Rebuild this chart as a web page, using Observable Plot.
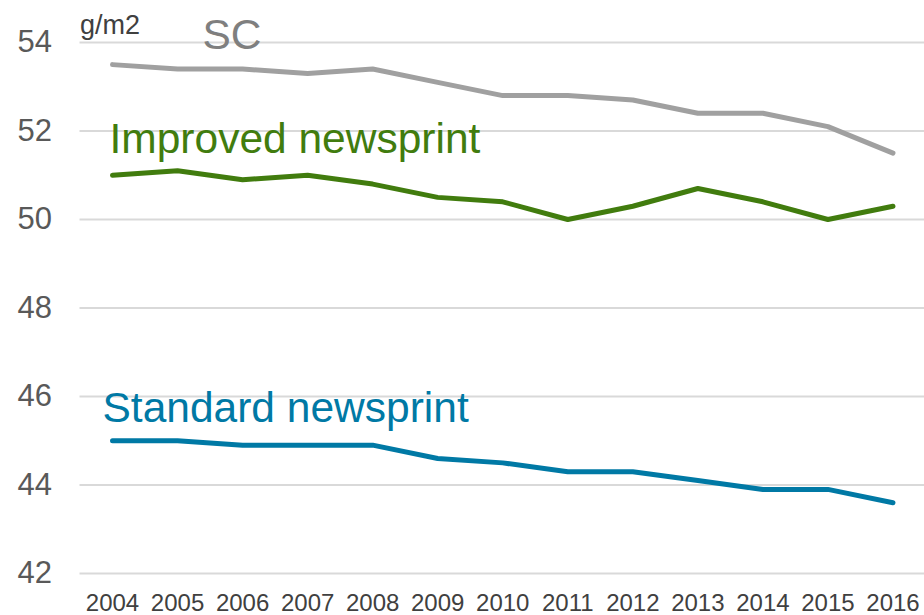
<!DOCTYPE html>
<html><head><meta charset="utf-8">
<script src="https://cdn.jsdelivr.net/npm/d3@7"></script>
<script src="https://cdn.jsdelivr.net/npm/@observablehq/plot@0.6"></script>
<style>
body{margin:0;background:#fff;}
svg{font-family:"Liberation Sans",Arial,sans-serif;}
</style>
</head><body><div id="chart"></div>
<script>
const years = [2004,2005,2006,2007,2008,2009,2010,2011,2012,2013,2014,2015,2016];
const scValues = [53.5,53.4,53.4,53.3,53.4,53.1,52.8,52.8,52.7,52.4,52.4,52.1,51.5];
const improvedValues = [51.0,51.1,50.9,51.0,50.8,50.5,50.4,50.0,50.3,50.7,50.4,50.0,50.3];
const standardValues = [45.0,45.0,44.9,44.9,44.9,44.6,44.5,44.3,44.3,44.1,43.9,43.9,43.6];
const yTicks = [42,44,46,48,50,52,54];
const unitLabel = "g/m2";
const seriesNames = ["SC","Improved newsprint","Standard newsprint"];

const rows = (name, vals) => years.map((year, i) => ({series: name, year, value: vals[i]}));
const sc = rows(seriesNames[0], scValues);
const improved = rows(seriesNames[1], improvedValues);
const standard = rows(seriesNames[2], standardValues);

const plot = Plot.plot({
  width: 924, height: 615,
  marginLeft: 79.5, marginRight: 0, marginTop: 42, marginBottom: 42,
  style: {fontFamily: '"Liberation Sans", Arial, sans-serif', background: "white", overflow: "visible"},
  x: {domain: [2003.5, 2016.5], range: [79.5, 925]},
  y: {domain: [42, 54], range: [573, 42]},
  marks: [
    Plot.ruleY(yTicks, {stroke: "#d9d9d9", strokeWidth: 2}),
    Plot.axisY({ticks: yTicks, tickSize: 0, tickPadding: 28, fontSize: 31, fill: "#595959", label: null}),
    Plot.axisX({ticks: years, tickFormat: d => String(d), tickSize: 0, tickPadding: 20, fontSize: 24, fill: "#404040", label: null}),
    Plot.line(sc, {x: "year", y: "value", stroke: "#a0a0a0", strokeWidth: 5}),
    Plot.line(improved, {x: "year", y: "value", stroke: "#417c0e", strokeWidth: 5}),
    Plot.line(standard, {x: "year", y: "value", stroke: "#0079a5", strokeWidth: 5}),
    Plot.text([sc[0]], {x: "year", y: "value", text: "series", textAnchor: "start", lineAnchor: "bottom", dx: 90, dy: -16, fontSize: 42.5, fill: "#7f7f7f"}),
    Plot.text([improved[0]], {x: "year", y: "value", text: "series", textAnchor: "start", lineAnchor: "bottom", dx: -3, dy: -22.5, fontSize: 42.5, fill: "#417c0e"}),
    Plot.text([standard[0]], {x: "year", y: "value", text: "series", textAnchor: "start", lineAnchor: "bottom", dx: -10, dy: -18.5, fontSize: 42.5, fill: "#0079a5"}),
    Plot.text([unitLabel], {frameAnchor: "top-left", text: d => d, textAnchor: "start", lineAnchor: "bottom", dy: -9, fontSize: 27, fill: "#404040"})
  ]
});
document.getElementById("chart").appendChild(plot);
</script>
</body></html>
